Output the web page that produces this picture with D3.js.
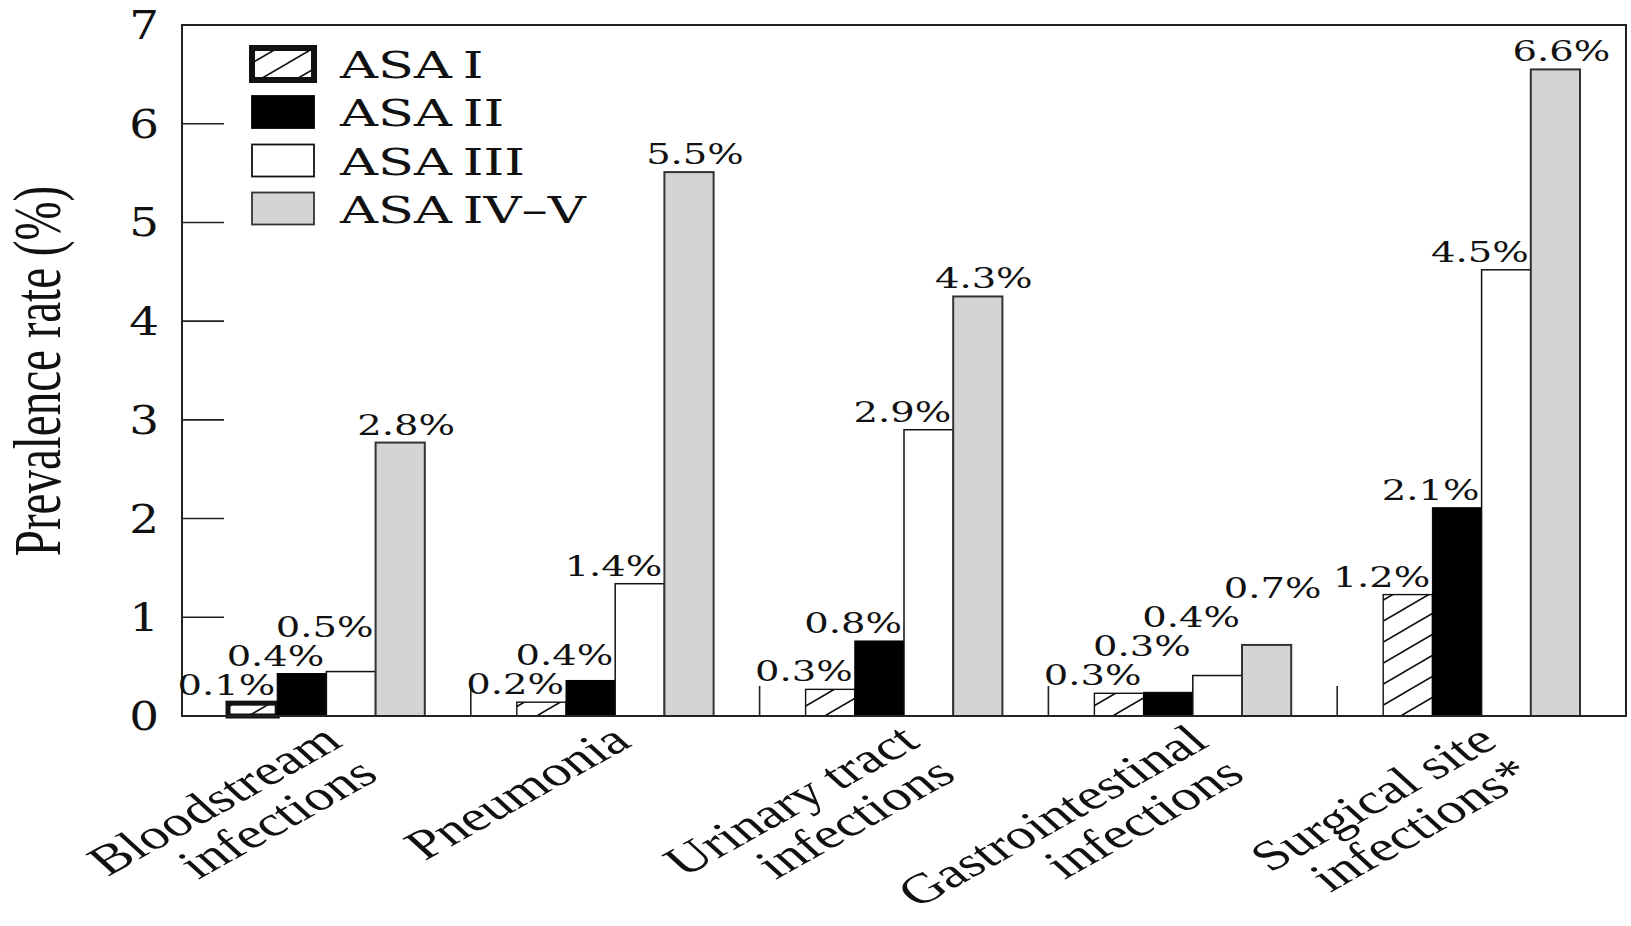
<!DOCTYPE html>
<html>
<head>
<meta charset="utf-8">
<script src="https://cdn.jsdelivr.net/npm/d3@7"></script>
<style>
  html, body { margin: 0; padding: 0; background: #fff; }
  svg { display: block; }
</style>
</head>
<body>
<svg id="chart" width="1631" height="926"></svg>
<script>
// ---- data ----
const categoryLines = [
  ["Bloodstream", "infections"],
  ["Pneumonia"],
  ["Urinary tract", "infections"],
  ["Gastrointestinal", "infections"],
  ["Surgical site", "infections*"]
];
const seriesNames = ["ASA I", "ASA II", "ASA III", "ASA IV\u2013V"];
const asa1  = [0.13, 0.14, 0.27, 0.23, 1.23];
const asa2  = [0.43, 0.36, 0.76, 0.24, 2.11];
const asa3  = [0.45, 1.34, 2.90, 0.41, 4.52];
const asa45 = [2.77, 5.51, 4.25, 0.72, 6.55];
const lab1  = ["0.1%", "0.2%", "0.3%", "0.3%", "1.2%"];
const lab2  = ["0.4%", "0.4%", "0.8%", "0.3%", "2.1%"];
const lab3  = ["0.5%", "1.4%", "2.9%", "0.4%", "4.5%"];
const lab45 = ["2.8%", "5.5%", "4.3%", "0.7%", "6.6%"];
const yTicks = [0, 1, 2, 3, 4, 5, 6, 7];

// ---- layout ----
const L = 182, R = 1626, T = 25, B = 716;
const SX = 1.4; // horizontal stretch of the original figure
const svg = d3.select("#chart");

const values = [asa1, asa2, asa3, asa45];
const labels = [lab1, lab2, lab3, lab45];
const catKeys = categoryLines.map(d => d.join(" "));

const x0 = d3.scaleBand().domain(catKeys).range([L, R]).paddingInner(0).paddingOuter(0);
const x1 = d3.scaleBand().domain(seriesNames).range([0, x0.bandwidth()]).paddingInner(0).paddingOuter(0.935);
const y = d3.scaleLinear().domain([0, 7]).range([B, T]);

// hatch pattern
const defs = svg.append("defs");
const pat = defs.append("pattern").attr("id", "hatch").attr("patternUnits", "userSpaceOnUse")
  .attr("width", 36).attr("height", 21);
pat.append("rect").attr("width", 36).attr("height", 21).attr("fill", "#fff");
pat.append("path").attr("d", "M0,21 L36,0 M-18,10.5 L18,-10.5 M18,31.5 L54,10.5")
  .attr("stroke", "#111").attr("stroke-width", 1.6).attr("fill", "none");

const fills = ["url(#hatch)", "#000", "#fff", "#d4d4d4"];
const strokes = ["#111", "#000", "#111", "#333"];
const strokeW = [1.4, 1, 1.5, 2];

// bars
const bars = [];
catKeys.forEach((c, ci) => {
  seriesNames.forEach((s, si) => {
    bars.push({ c, ci, s, si, v: values[si][ci], label: labels[si][ci] });
  });
});

svg.append("g").selectAll("rect").data(bars).join("rect")
  .attr("x", d => x0(d.c) + x1(d.s))
  .attr("y", d => y(d.v))
  .attr("width", x1.bandwidth())
  .attr("height", d => y(0) - y(d.v))
  .attr("fill", d => fills[d.si])
  .attr("stroke", d => strokes[d.si])
  .attr("stroke-width", d => (d.ci === 0 && d.si === 0) ? 5 : strokeW[d.si]);

// frame
svg.append("rect").attr("x", L).attr("y", T).attr("width", R - L).attr("height", B - T)
  .attr("fill", "none").attr("stroke", "#222").attr("stroke-width", 2);

// y ticks (inward)
svg.append("g").selectAll("line").data(yTicks).join("line")
  .attr("x1", L).attr("x2", L + 42)
  .attr("y1", d => y(d)).attr("y2", d => y(d))
  .attr("stroke", "#222").attr("stroke-width", 1.6);

svg.append("g").selectAll("text").data(yTicks).join("text")
  .attr("transform", d => `translate(159,${y(d)}) scale(1.2,1)`)
  .attr("text-anchor", "end").attr("dy", "0.36em")
  .attr("font-family", "DejaVu Serif").attr("font-size", 39).attr("fill", "#111")
  .text(d => d);

// x group boundary ticks (upward)
svg.append("g").selectAll("line").data(catKeys.slice(1)).join("line")
  .attr("x1", d => x0(d)).attr("x2", d => x0(d))
  .attr("y1", B).attr("y2", B - 30)
  .attr("stroke", "#222").attr("stroke-width", 1.6);

// value labels with simple stacking to avoid overlap
const labelG = svg.append("g");
catKeys.forEach((c, ci) => {
  let prev = Infinity;
  seriesNames.forEach((s, si) => {
    const v = values[si][ci];
    const bx = x0(c) + x1(s);
    let by = Math.min(y(v) - 8, prev - 29);
    prev = by;
    const isLast = si === seriesNames.length - 1;
    const ax = isLast ? bx + x1.bandwidth() / 2 + 6 : bx + x1.bandwidth() - 2;
    labelG.append("text")
      .attr("transform", `translate(${ax},${by}) scale(1.4,1)`)
      .attr("text-anchor", isLast ? "middle" : "end")
      .attr("font-family", "DejaVu Serif").attr("font-size", 27.5).attr("fill", "#111")
      .text(labels[si][ci]);
  });
});

// category labels
const catG = svg.append("g");
categoryLines.forEach((lines, ci) => {
  const cx = x0(catKeys[ci]) + x0.bandwidth() / 2 + 18;
  const t = catG.append("text")
    .attr("transform", `translate(${cx},745) scale(${SX},1) rotate(-38)`)
    .attr("text-anchor", "end")
    .attr("font-family", "Liberation Serif").attr("font-size", 42).attr("fill", "#111");
  lines.forEach((ln, li) => {
    t.append("tspan").attr("x", 0).attr("dy", li === 0 ? 0 : "1.0em").text(ln);
  });
});

// y axis title
svg.append("text")
  .attr("transform", `translate(60,371) scale(1.45,1) rotate(-90)`)
  .attr("text-anchor", "middle")
  .attr("font-family", "Liberation Serif").attr("font-size", 47).attr("fill", "#111")
  .text("Prevalence rate (%)");

// legend
const legTop = [48, 96, 144.5, 192.5];
const lg = svg.append("g");
seriesNames.forEach((s, i) => {
  lg.append("rect")
    .attr("x", 252).attr("y", legTop[i]).attr("width", 62).attr("height", 32)
    .attr("fill", fills[i]).attr("stroke", strokes[i])
    .attr("stroke-width", i === 0 ? 6 : 1.8);
  lg.append("text")
    .attr("transform", `translate(340,${legTop[i] + 30}) scale(1.42,1)`)
    .attr("font-family", "DejaVu Serif").attr("font-size", 37).attr("fill", "#111")
    .attr("word-spacing", -4)
    .text(s);
});
</script>
</body>
</html>
